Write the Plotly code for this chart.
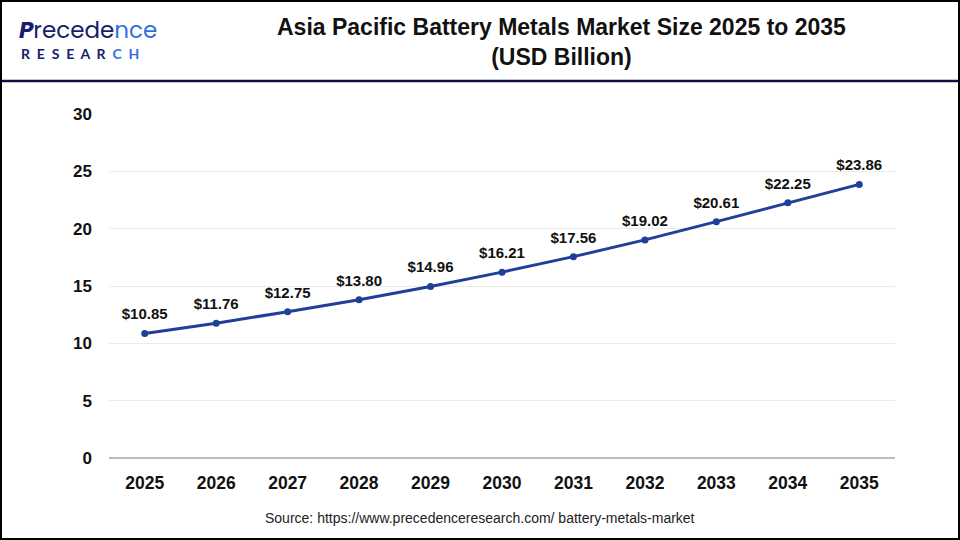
import plotly.graph_objects as go

# Asia Pacific battery metals market size (USD Billion)
years = ['2025', '2026', '2027', '2028', '2029', '2030', '2031', '2032', '2033', '2034', '2035']
market_size = [10.85, 11.76, 12.75, 13.80, 14.96, 16.21, 17.56, 19.02, 20.61, 22.25, 23.86]
y_ticks = [0, 5, 10, 15, 20, 25, 30]

labels = ['<b>$' + format(v, '.2f') + '</b>' for v in market_size]

# plot area in pixels: 786 wide, 344 tall
W, H = 786, 344
L, T = 109, 114


def px(x):
    return (x - L) / W


def py(y):
    return 1 - (y - T) / H


fig = go.Figure()
fig.add_trace(go.Scatter(
    x=years, y=market_size,
    mode='lines+markers',
    line=dict(color='#1f3f99', width=3),
    marker=dict(color='#1f3f99', size=7),
    cliponaxis=False,
    hoverinfo='x+y',
))
# value labels: invisible wide markers push the text up above each point
fig.add_trace(go.Scatter(
    x=years, y=market_size,
    mode='markers+text',
    marker=dict(color='rgba(0,0,0,0)', size=15),
    text=labels,
    textposition='top center',
    textfont=dict(family='Arial, Liberation Sans, sans-serif', size=15, color='#111111'),
    cliponaxis=False,
    hoverinfo='skip',
))

fig.update_layout(
    width=960, height=540,
    margin=dict(l=109, r=65, t=114, b=82),
    paper_bgcolor='white',
    plot_bgcolor='white',
    showlegend=False,
    font=dict(family='Arial, Liberation Sans, sans-serif', color='#111111'),
    xaxis=dict(
        type='category',
        range=[-0.5, 10.5],
        showgrid=False,
        ticks='',
        tickfont=dict(size=17.5, color='#111111', weight='bold'),
        ticklabelstandoff=12,
        showline=False,
    ),
    yaxis=dict(
        range=[0, 30],
        tickvals=y_ticks,
        showgrid=True,
        gridcolor='#ececec',
        zeroline=True,
        zerolinecolor='#bdbdbd',
        zerolinewidth=2,
        tickfont=dict(size=17, color='#111111', weight='bold'),
        ticklabelstandoff=16,
    ),
    shapes=[
        # divider under the header
        dict(type='line', xref='paper', yref='paper',
             x0=px(0), x1=px(960), y0=py(81), y1=py(81),
             line=dict(color='#0d1140', width=2.5)),
        # outer frame of the picture
        dict(type='rect', xref='paper', yref='paper',
             x0=px(1), x1=px(959), y0=py(539), y1=py(1),
             line=dict(color='black', width=2)),
    ],
)

fig.add_annotation(text='<b>Asia Pacific Battery Metals Market Size 2025 to 2035<br>(USD Billion)</b>',
                   xref='paper', yref='paper', x=px(561), y=py(42),
                   xanchor='center', yanchor='middle', showarrow=False,
                   font=dict(size=23, color='#111111'), align='center')
fig.add_annotation(text='<i><b>P</b></i>recede<span style="color:#2f6fe0">nce</span>',
                   xref='paper', yref='paper', x=px(17), y=py(30),
                   xanchor='left', yanchor='middle', showarrow=False,
                   font=dict(size=23, color='#15206b', family='Poppins, Lato, sans-serif'))
fig.add_annotation(text='R&nbsp;&nbsp;E&nbsp;&nbsp;S&nbsp;&nbsp;E&nbsp;&nbsp;A&nbsp;&nbsp;R&nbsp;&nbsp;'
                        '<span style="color:#2f6fe0">C&nbsp;&nbsp;H</span>',
                   xref='paper', yref='paper', x=px(19), y=py(54),
                   xanchor='left', yanchor='middle', showarrow=False,
                   font=dict(size=14, color='#15206b', family='Lato, sans-serif', weight='bold'))
fig.add_annotation(text='Source: https://www.precedenceresearch.com/ battery-metals-market',
                   xref='paper', yref='paper', x=px(480), y=py(518),
                   xanchor='center', yanchor='middle', showarrow=False,
                   font=dict(size=14, color='#222222'))

fig.write_html('out.html', config={'displayModeBar': False},
               post_script="document.body.style.margin='0';")
